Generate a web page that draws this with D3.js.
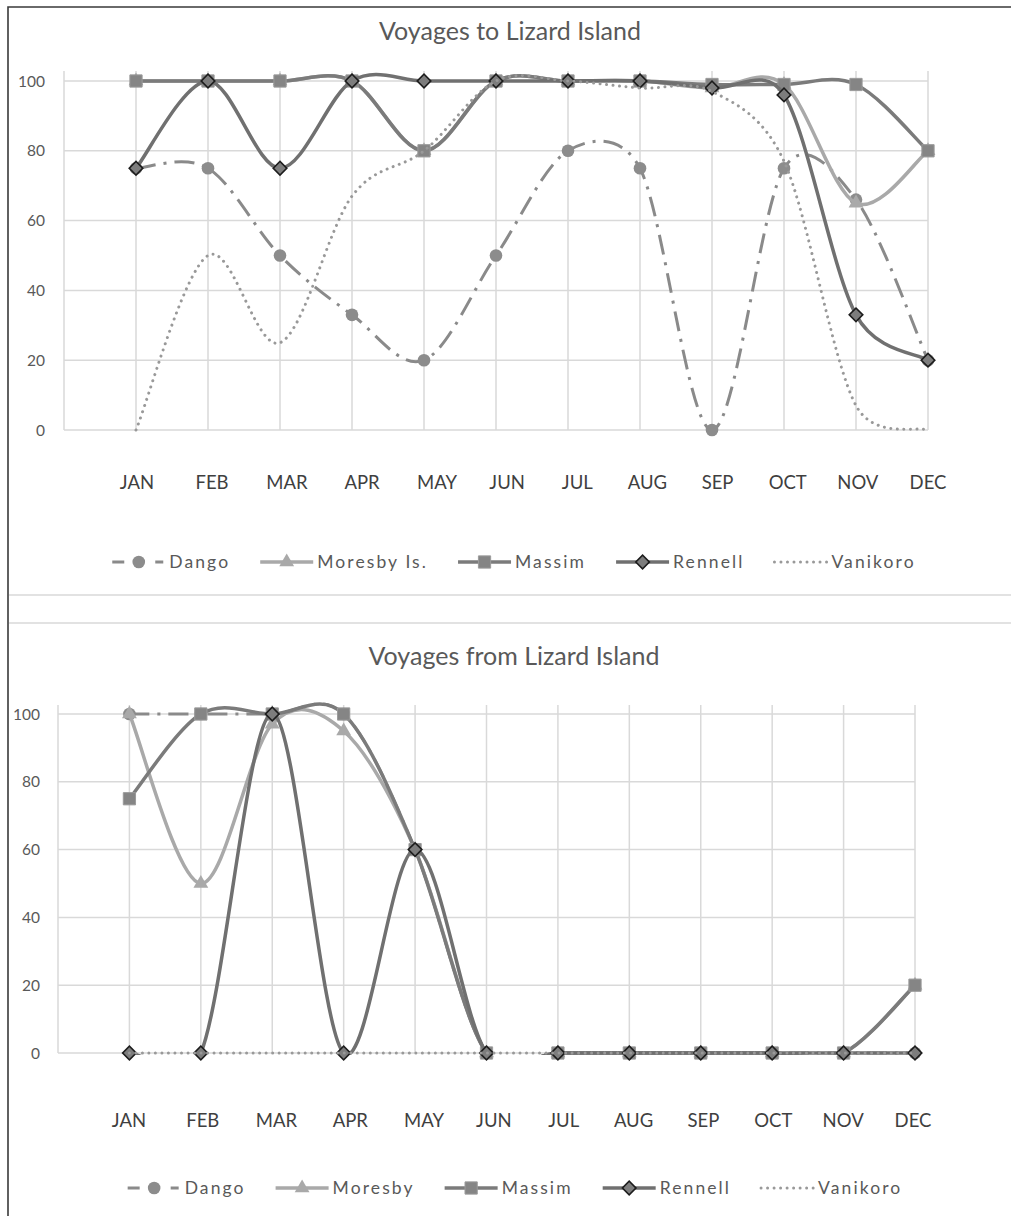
<!DOCTYPE html>
<html>
<head>
<meta charset="utf-8">
<script src="https://cdn.jsdelivr.net/npm/d3@7"></script>
<style>
  body { margin: 0; background: #fff; }
  svg { display: block; }
  text { font-family: Lato, "Open Sans", sans-serif; }
</style>
</head>
<body>
<svg id="chart" width="1011" height="1216"></svg>
<script>
// Month categories and value ticks
const months = ["JAN", "FEB", "MAR", "APR", "MAY", "JUN", "JUL", "AUG", "SEP", "OCT", "NOV", "DEC"];
const yTicks = [0, 20, 40, 60, 80, 100];

// Legend names
const namesTo = ["Dango", "Moresby Is.", "Massim", "Rennell", "Vanikoro"];
const namesFrom = ["Dango", "Moresby", "Massim", "Rennell", "Vanikoro"];

// Voyages to Lizard Island (% of voyages per month)
const toDango    = [75, 75, 50, 33, 20, 50, 80, 75, 0, 75, 66, 20];
const toMoresby  = [100, 100, 100, 100, 80, 100, 100, 100, 98, 99, 65, 80];
const toMassim   = [100, 100, 100, 100, 80, 100, 100, 100, 99, 99, 99, 80];
const toRennell  = [75, 100, 75, 100, 100, 100, 100, 100, 98, 96, 33, 20];
const toVanikoro = [0, 50, 25, 67, 80, 100, 100, 98, 97, 77, 7, 0];

// Voyages from Lizard Island (% of voyages per month)
const fromDango    = [100, 100, 100, 100, 60, 0, 0, 0, 0, 0, 0, 0];
const fromMoresby  = [100, 50, 97, 95, 60, 0, 0, 0, 0, 0, 0, 20];
const fromMassim   = [75, 100, 100, 100, 60, 0, 0, 0, 0, 0, 0, 20];
const fromRennell  = [0, 0, 100, 0, 60, 0, 0, 0, 0, 0, 0, 0];
const fromVanikoro = [0, 0, 0, 0, 0, 0, 0, 0, 0, 0, 0, 0];

// Line and marker styling per series (same order as the legend)
const styles = [
  { color: "#8a8a8a", width: 3,   dash: "20 8 3 8", legendDash: "12 31 8", cap: "butt",  shape: "circle",   fill: "#8c8c8c", stroke: "none" },
  { color: "#a9a9a9", width: 3.5, dash: null,       cap: "round", shape: "triangle", fill: "#a9a9a9", stroke: "none" },
  { color: "#7b7b7b", width: 3.5, dash: null,       cap: "round", shape: "square",   fill: "#858585", stroke: "#9b9b9b" },
  { color: "#707070", width: 3.5, dash: null,       cap: "round", shape: "diamond",  fill: "#7d7d7d", stroke: "#1c1c1c" },
  { color: "#999999", width: 3,   dash: "0.01 6.5", cap: "round", shape: null }
];

const panels = [
  {
    id: "to", title: "Voyages to Lizard Island", titleX: 510, names: namesTo,
    series: [toDango, toMoresby, toMassim, toRennell, toVanikoro],
    x0: 64, x1: 928, yBottom: 430, yTop: 81, gridTop: 71,
    titleBase: 40, tickX: 45, labelBase: 489, labelStops: [137, 437, 928],
    legendMid: 562, legendCx: 514
  },
  {
    id: "from", title: "Voyages from Lizard Island", titleX: 514, names: namesFrom,
    series: [fromDango, fromMoresby, fromMassim, fromRennell, fromVanikoro],
    x0: 58, x1: 915, yBottom: 1053, yTop: 714, gridTop: 705,
    titleBase: 665, tickX: 40, labelBase: 1127, labelStops: [129, 424, 913],
    legendMid: 1188, legendCx: 515
  }
];

// Smoothed line in the spreadsheet style: Bezier segments whose handles are
// 1/6 of the neighbour chord, shortened when that would exceed half the segment.
function smoothCurve(context) {
  let pts;
  const dist = (a, b) => Math.hypot(b[0] - a[0], b[1] - a[1]);
  return {
    areaStart() {}, areaEnd() {},
    lineStart() { pts = []; },
    point(x, y) { pts.push([+x, +y]); },
    lineEnd() {
      const n = pts.length;
      if (!n) return;
      context.moveTo(pts[0][0], pts[0][1]);
      for (let i = 0; i < n - 1; i++) {
        const p0 = pts[Math.max(i - 1, 0)], p1 = pts[i], p2 = pts[i + 1], p3 = pts[Math.min(i + 2, n - 1)];
        const d12 = dist(p1, p2), d02 = dist(p0, p2), d13 = dist(p1, p3);
        const f = d02 / 6 < d12 / 2 ? 1 / 6 : d12 / (2 * d02);
        const g = d13 / 6 < d12 / 2 ? 1 / 6 : d12 / (2 * d13);
        context.bezierCurveTo(
          p1[0] + f * (p2[0] - p0[0]), p1[1] + f * (p2[1] - p0[1]),
          p2[0] - g * (p3[0] - p1[0]), p2[1] - g * (p3[1] - p1[1]),
          p2[0], p2[1]);
      }
    }
  };
}

const svg = d3.select("#chart");
svg.append("rect").attr("width", 1011).attr("height", 1216).attr("fill", "#fff");
const defs = svg.append("defs");

// Chart frames
svg.append("path").attr("d", "M8,1216V7H1011").attr("fill", "none")
  .attr("stroke", "#3a3a3a").attr("stroke-width", 1.6);
[595, 623].forEach(y => svg.append("line")
  .attr("x1", 9).attr("x2", 1011).attr("y1", y).attr("y2", y)
  .attr("stroke", "#d9d9d9").attr("stroke-width", 1.6));

function symbolPath(shape) {
  if (shape === "circle") return d3.symbol(d3.symbolCircle, 125)();
  if (shape === "triangle") return d3.symbol(d3.symbolTriangle, 95)();
  if (shape === "square") return d3.symbol(d3.symbolSquare, 150)();
  if (shape === "diamond") return d3.symbol(d3.symbolSquare, 92)();
  return null;
}

function drawMarker(g, st, x, y) {
  if (!st.shape) return;
  g.append("path")
    .attr("d", symbolPath(st.shape))
    .attr("transform", `translate(${x},${y})` + (st.shape === "diamond" ? " rotate(45)" : ""))
    .attr("fill", st.fill)
    .attr("stroke", st.stroke)
    .attr("stroke-width", st.shape === "diamond" ? 1.6 : 1);
}

panels.forEach(p => {
  const g = svg.append("g");
  const x = d3.scaleLinear().domain([0, 12]).range([p.x0, p.x1]);
  const y = d3.scaleLinear().domain([0, 100]).range([p.yBottom, p.yTop]);

  // Plot-area clip for the series lines
  defs.append("clipPath").attr("id", "clip-" + p.id)
    .append("rect").attr("x", p.x0).attr("y", p.gridTop - 3)
    .attr("width", p.x1 - p.x0 + 2).attr("height", y(0) + 2 - (p.gridTop - 3));

  // Title
  g.append("text").attr("x", p.titleX).attr("y", p.titleBase)
    .attr("text-anchor", "middle").attr("font-size", 25).attr("fill", "#595959")
    .text(p.title);

  // Gridlines
  g.append("g").selectAll("line").data(yTicks).join("line")
    .attr("x1", p.x0).attr("x2", p.x1)
    .attr("y1", d => y(d)).attr("y2", d => y(d))
    .attr("stroke", "#d9d9d9").attr("stroke-width", 1.5);
  g.append("g").selectAll("line").data(d3.range(0, 13)).join("line")
    .attr("x1", d => x(d)).attr("x2", d => x(d))
    .attr("y1", p.gridTop).attr("y2", y(0))
    .attr("stroke", "#d9d9d9").attr("stroke-width", 1.5);

  // Value axis labels
  g.append("g").selectAll("text").data(yTicks).join("text")
    .attr("x", p.tickX).attr("y", d => y(d) + 5.6)
    .attr("text-anchor", "end").attr("font-size", 15.5).attr("fill", "#595959")
    .text(d => d);

  // Month labels
  const lx = d3.scaleLinear().domain([0, 4, 11]).range(p.labelStops);
  g.append("g").selectAll("text").data(months).join("text")
    .attr("x", (d, i) => lx(i)).attr("y", p.labelBase)
    .attr("text-anchor", "middle").attr("font-size", 18.5).attr("fill", "#3f3f3f")
    .text(d => d);

  // Series lines and markers
  const line = d3.line()
    .x((d, i) => x(i + 1)).y(d => y(d))
    .curve(smoothCurve);
  p.series.forEach((vals, si) => {
    const st = styles[si];
    const sg = g.append("g");
    sg.append("path").datum(vals).attr("d", line)
      .attr("clip-path", `url(#clip-${p.id})`)
      .attr("fill", "none").attr("stroke", st.color).attr("stroke-width", st.width)
      .attr("stroke-dasharray", st.dash).attr("stroke-linecap", st.cap)
      .attr("stroke-linejoin", "round");
    vals.forEach((v, i) => drawMarker(sg, st, x(i + 1), y(v)));
  });

  // Legend
  const lg = g.append("g");
  const sampleW = 53, textGap = 4, itemGap = 30;
  let cursor = 0;
  p.names.forEach((name, si) => {
    const st = styles[si];
    const item = lg.append("g").attr("transform", `translate(${cursor},0)`);
    item.append("line").attr("x1", 0).attr("x2", sampleW)
      .attr("y1", p.legendMid).attr("y2", p.legendMid)
      .attr("stroke", st.color).attr("stroke-width", st.width)
      .attr("stroke-dasharray", st.legendDash || st.dash)
      .attr("stroke-linecap", st.cap === "round" && st.dash ? "round" : "butt");
    drawMarker(item, st, sampleW / 2, p.legendMid);
    const t = item.append("text").attr("x", sampleW + textGap).attr("y", p.legendMid + 6.3)
      .attr("font-size", 17.5).attr("fill", "#595959").attr("letter-spacing", 2.1)
      .text(name);
    cursor += sampleW + textGap + t.node().getComputedTextLength() + itemGap;
  });
  const total = cursor - itemGap;
  lg.attr("transform", `translate(${p.legendCx - total / 2},0)`);
});
</script>
</body>
</html>
